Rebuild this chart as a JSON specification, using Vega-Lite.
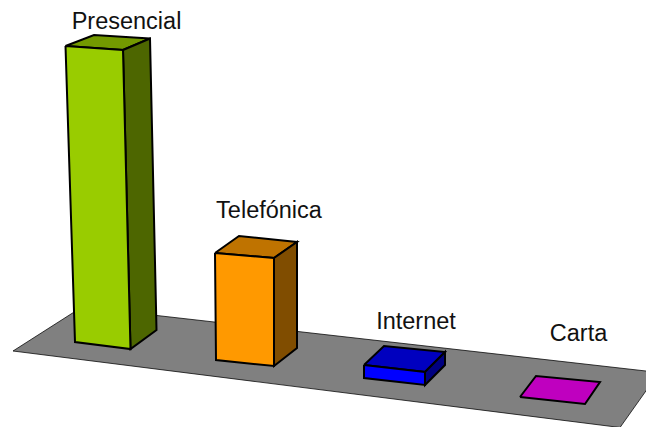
{"$schema":"https://vega.github.io/schema/vega-lite/v6.json","autosize":{"type":"fit","contains":"padding"},"width":646,"height":427,"padding":0,"background":"white","view":{"stroke":null},"config":{"axis":{"grid":false}},
"datasets":{"floor":[{"face":"Suelo","v":1,"x":13,"y":351},{"face":"Suelo","v":2,"x":82,"y":307},{"face":"Suelo","v":3,"x":659,"y":372.5},{"face":"Suelo","v":4,"x":620,"y":427.5},{"face":"Suelo","v":5,"x":13,"y":351}],
"faces":[
{"face":"Presencial arriba","v":1,"x":65.5,"y":46},{"face":"Presencial arriba","v":2,"x":94,"y":35},{"face":"Presencial arriba","v":3,"x":150,"y":38.5},{"face":"Presencial arriba","v":4,"x":123,"y":50},{"face":"Presencial arriba","v":5,"x":65.5,"y":46},
{"face":"Presencial lado","v":1,"x":123,"y":50},{"face":"Presencial lado","v":2,"x":150,"y":38.5},{"face":"Presencial lado","v":3,"x":156.5,"y":330},{"face":"Presencial lado","v":4,"x":130.5,"y":349},{"face":"Presencial lado","v":5,"x":123,"y":50},
{"face":"Presencial frente","v":1,"x":65.5,"y":46},{"face":"Presencial frente","v":2,"x":123,"y":50},{"face":"Presencial frente","v":3,"x":130.5,"y":349},{"face":"Presencial frente","v":4,"x":75,"y":342},{"face":"Presencial frente","v":5,"x":65.5,"y":46},
{"face":"Telefónica arriba","v":1,"x":215,"y":253},{"face":"Telefónica arriba","v":2,"x":239,"y":236},{"face":"Telefónica arriba","v":3,"x":297,"y":242},{"face":"Telefónica arriba","v":4,"x":274,"y":258},{"face":"Telefónica arriba","v":5,"x":215,"y":253},
{"face":"Telefónica lado","v":1,"x":274,"y":258},{"face":"Telefónica lado","v":2,"x":297,"y":242},{"face":"Telefónica lado","v":3,"x":297,"y":348},{"face":"Telefónica lado","v":4,"x":274,"y":366},{"face":"Telefónica lado","v":5,"x":274,"y":258},
{"face":"Telefónica frente","v":1,"x":215,"y":253},{"face":"Telefónica frente","v":2,"x":274,"y":258},{"face":"Telefónica frente","v":3,"x":274,"y":366},{"face":"Telefónica frente","v":4,"x":216,"y":360},{"face":"Telefónica frente","v":5,"x":215,"y":253},
{"face":"Internet arriba","v":1,"x":364,"y":365},{"face":"Internet arriba","v":2,"x":384,"y":346},{"face":"Internet arriba","v":3,"x":445,"y":352},{"face":"Internet arriba","v":4,"x":425,"y":372},{"face":"Internet arriba","v":5,"x":364,"y":365},
{"face":"Internet lado","v":1,"x":425,"y":372},{"face":"Internet lado","v":2,"x":445,"y":352},{"face":"Internet lado","v":3,"x":445,"y":365},{"face":"Internet lado","v":4,"x":425,"y":385},{"face":"Internet lado","v":5,"x":425,"y":372},
{"face":"Internet frente","v":1,"x":364,"y":365},{"face":"Internet frente","v":2,"x":425,"y":372},{"face":"Internet frente","v":3,"x":425,"y":385},{"face":"Internet frente","v":4,"x":364,"y":378},{"face":"Internet frente","v":5,"x":364,"y":365},
{"face":"Carta arriba","v":1,"x":520,"y":397},{"face":"Carta arriba","v":2,"x":536,"y":376},{"face":"Carta arriba","v":3,"x":600,"y":382},{"face":"Carta arriba","v":4,"x":585,"y":404},{"face":"Carta arriba","v":5,"x":520,"y":397}
],
"labels":[{"name":"Presencial","x":126.5,"y":29},{"name":"Telefónica","x":269,"y":218},{"name":"Internet","x":416,"y":329},{"name":"Carta","x":578.5,"y":341}]},
"layer":[
{"data":{"name":"floor"},"mark":{"type":"line","fill":"#808080","stroke":"black","strokeWidth":0.75,"clip":true},"encoding":{"x":{"field":"x","type":"quantitative","scale":{"domain":[0,646],"nice":false,"zero":false},"axis":null},"y":{"field":"y","type":"quantitative","scale":{"domain":[427,0],"nice":false,"zero":false},"axis":null},"order":{"field":"v","type":"quantitative"}}},
{"data":{"name":"faces"},"mark":{"type":"line","filled":true,"stroke":"black","strokeWidth":2,"strokeJoin":"miter"},"encoding":{"x":{"field":"x","type":"quantitative","scale":{"domain":[0,646],"nice":false,"zero":false},"axis":null},"y":{"field":"y","type":"quantitative","scale":{"domain":[427,0],"nice":false,"zero":false},"axis":null},"order":{"field":"v","type":"quantitative"},"detail":{"field":"face"},"fill":{"field":"face","type":"nominal","legend":null,"scale":{"domain":["Presencial arriba","Presencial lado","Presencial frente","Telefónica arriba","Telefónica lado","Telefónica frente","Internet arriba","Internet lado","Internet frente","Carta arriba"],"range":["#739900","#4D6600","#99CC00","#BF7300","#804D00","#FF9900","#0000BF","#000080","#0000FF","#BF00BF"]}},"stroke":{"value":"black"}}},
{"data":{"name":"labels"},"mark":{"type":"text","font":"Liberation Sans","fontSize":23.5,"fill":"#111111","align":"center","baseline":"alphabetic"},"encoding":{"x":{"field":"x","type":"quantitative","scale":{"domain":[0,646],"nice":false,"zero":false},"axis":null},"y":{"field":"y","type":"quantitative","scale":{"domain":[427,0],"nice":false,"zero":false},"axis":null},"text":{"field":"name"}}}
]}
